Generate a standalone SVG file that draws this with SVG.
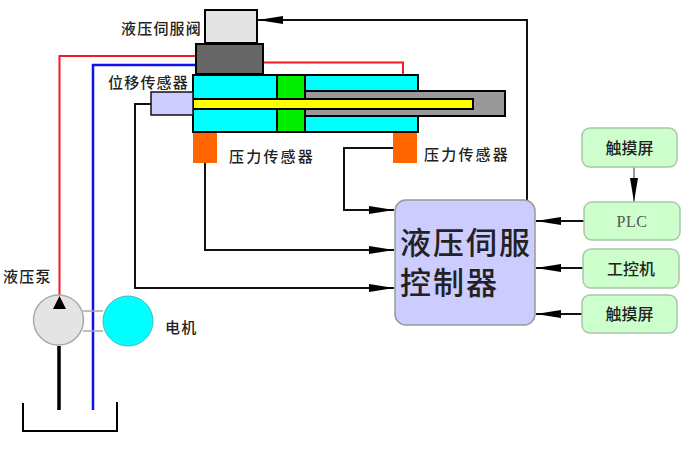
<svg xmlns="http://www.w3.org/2000/svg" width="684" height="451" viewBox="0 0 684 451">
<style>
text{font-family:"Noto Sans CJK SC","Liberation Sans",sans-serif;fill:#222}
.l{font-size:15px;letter-spacing:1.200px;font-weight:500}
.p{font-size:15px;letter-spacing:2.200px;font-weight:500}
.s{stroke:#000;stroke-width:2}
.c{fill:none;stroke:#111;stroke-width:2}
.g{fill:#ccffcc;stroke:#a8c8a8;stroke-width:1.500}
.b{font-size:16px;text-anchor:middle;font-weight:500}
</style>
<defs>
<marker id="a" markerUnits="userSpaceOnUse" markerWidth="26" markerHeight="10" refX="25" refY="5" orient="auto"><path d="M0 1L25 5L0 9L0 5Z" fill="#000"/></marker>
</defs>
<rect width="684" height="451" fill="#fff"/>
<g id="connectors">
<path d="M527 200V20H258" class="c" marker-end="url(#a)"/>
<path d="M393 148H344V210H394" class="c" marker-end="url(#a)"/>
<path d="M205 163V250H394" class="c" marker-end="url(#a)"/>
<path d="M151 104H135V288H394" class="c" marker-end="url(#a)"/>
<path d="M584 221H536" class="c" marker-end="url(#a)"/>
<path d="M583 268H536" class="c" marker-end="url(#a)"/>
<path d="M582 314H536" class="c" marker-end="url(#a)"/>
<path d="M634 167V202" fill="none" stroke="#999" stroke-width="2"/>
<path d="M630 178L634 202L638 178Z" fill="#000"/>
<path d="M59.500 296V56H196" fill="none" stroke="#f01c24" stroke-width="2"/>
<path d="M93 410V65H196" fill="none" stroke="#1010e8" stroke-width="2.500"/>
<path d="M263 62.500H403V75" fill="none" stroke="#f01c24" stroke-width="2"/>
<path d="M83 311H103M83 331H103" fill="none" stroke="#aaa" stroke-width="1.500"/>
<path d="M59 346V410" fill="none" stroke="#000" stroke-width="3.500"/>
</g>
<g id="valve">
<rect x="205" y="10" width="52" height="33" fill="#e4e4e4" class="s"/>
<rect x="196" y="44" width="67" height="30" fill="#666" class="s"/>
<text x="121" y="34" class="l">液压伺服阀</text>
</g>
<g id="cylinder">
<rect x="193" y="75" width="225" height="57" fill="#00ffff" class="s"/>
<rect x="305" y="91" width="200" height="25" fill="#999" class="s"/>
<rect x="277" y="75" width="28" height="57" fill="#00ee00" class="s"/>
<rect x="193" y="99" width="280" height="10" fill="#ffff00" class="s"/>
</g>
<g id="displacement-sensor">
<rect x="151" y="92" width="42" height="23" fill="#ccccff" stroke="#111" stroke-width="1.500"/>
<text x="108" y="88" class="l">位移传感器</text>
</g>
<g id="pressure-sensor-1">
<rect x="193" y="133" width="24" height="30" fill="#ff6600"/>
<text x="229" y="162" class="p">压力传感器</text>
</g>
<g id="pressure-sensor-2">
<rect x="393" y="133" width="24" height="30" fill="#ff6600"/>
<text x="424" y="160" class="p">压力传感器</text>
</g>
<g id="pump">
<circle cx="58.500" cy="320" r="25" fill="#e4e4e4" stroke="#aaa" stroke-width="1.500"/>
<path d="M53 309L59.500 296L66 309Z" fill="#000"/>
<text x="3" y="282" class="l">液压泵</text>
</g>
<g id="motor">
<circle cx="128" cy="321" r="25" fill="#00ffff" stroke="#44bbbb" stroke-width="1"/>
<text x="165" y="333" class="l">电机</text>
</g>
<g id="tank"><path d="M23 403V431H117V402" fill="none" stroke="#000" stroke-width="2"/></g>
<g id="controller">
<rect x="395" y="200" width="140" height="125" rx="11" fill="#ccccff" stroke="#999" stroke-width="1.500"/>
<text font-size="31" letter-spacing="2" font-weight="500"><tspan x="400" y="254">液压伺服</tspan><tspan x="400" y="294">控制器</tspan></text>
</g>
<g id="touch-1">
<rect x="582" y="128" width="95" height="39" rx="8" class="g"/>
<text x="629.500" y="154" class="b">触摸屏</text>
</g>
<g id="plc">
<rect x="584" y="202" width="96" height="38" rx="8" class="g"/>
<text x="632" y="227" font-size="16" text-anchor="middle" letter-spacing="0.500" style="font-family:'Liberation Serif',serif;fill:#555">PLC</text>
</g>
<g id="ipc">
<rect x="583" y="249" width="96" height="39" rx="8" class="g"/>
<text x="631" y="275" class="b">工控机</text>
</g>
<g id="touch-2">
<rect x="582" y="295" width="95" height="38" rx="8" class="g"/>
<text x="629.500" y="320" class="b">触摸屏</text>
</g>
</svg>
